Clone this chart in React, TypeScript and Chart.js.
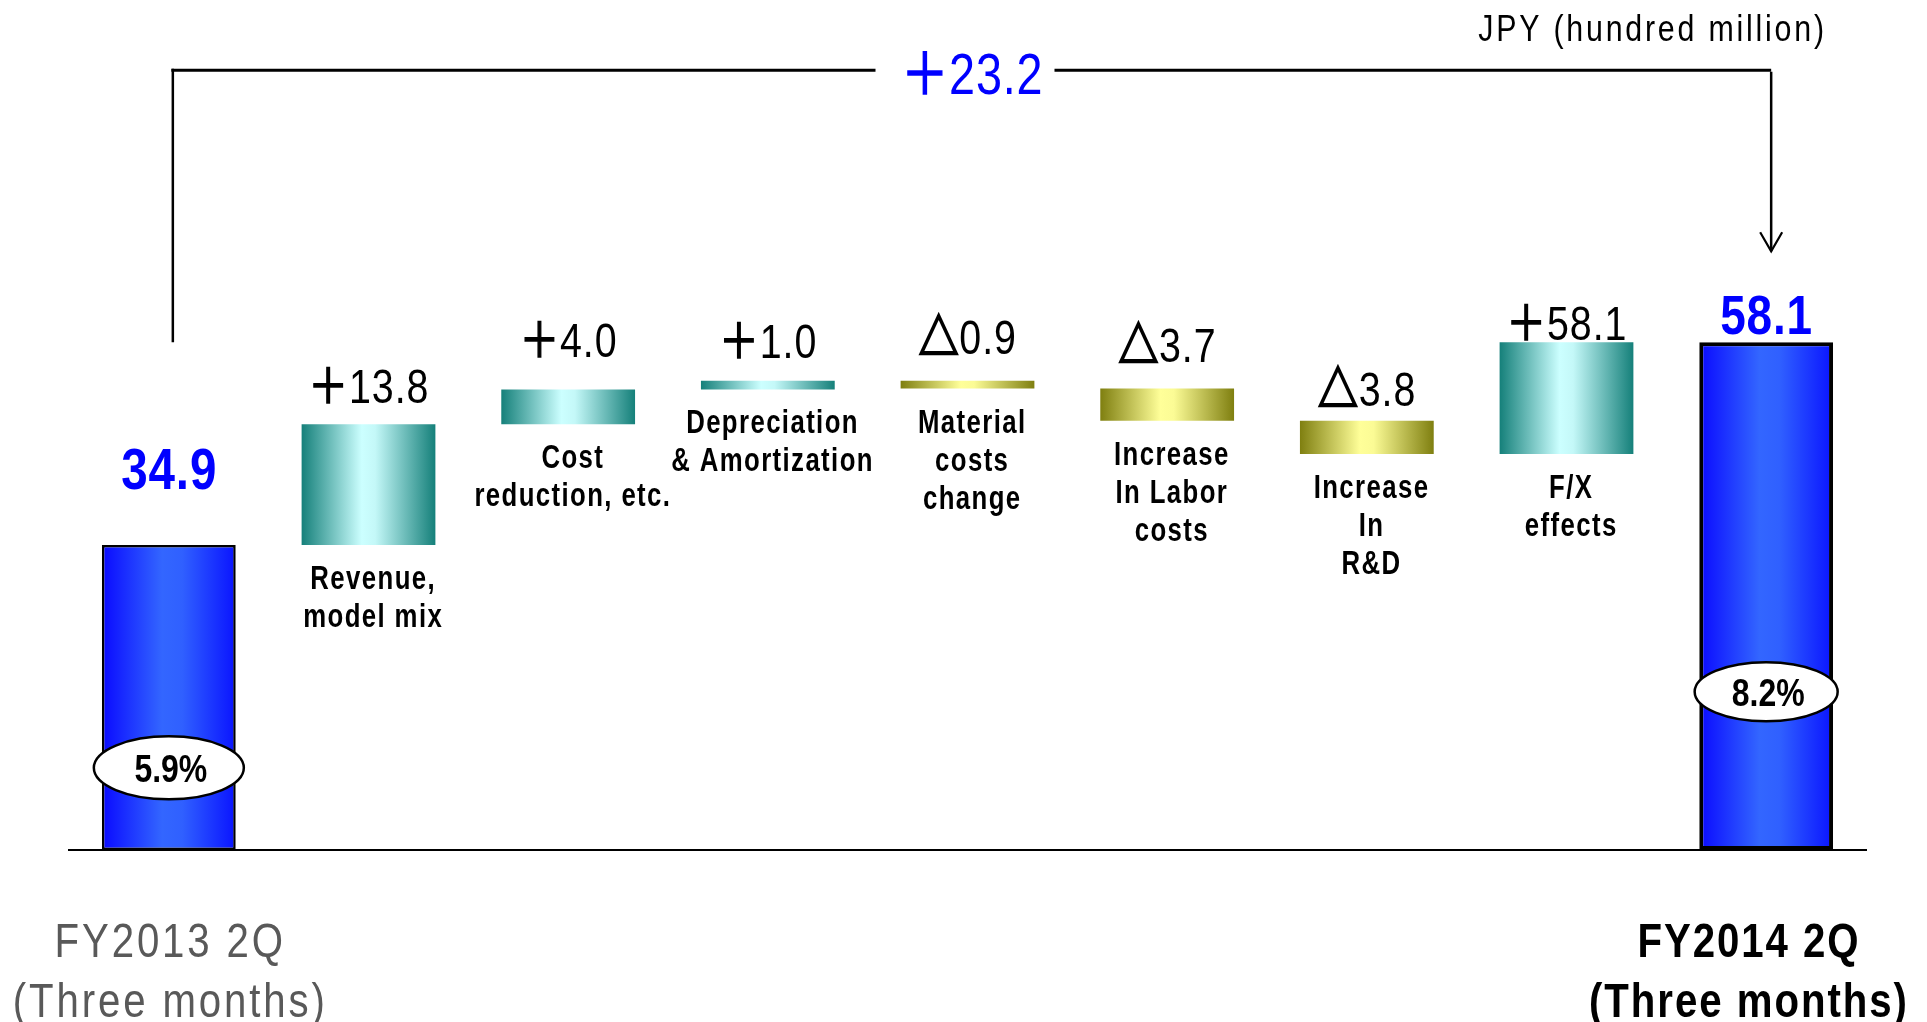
import React, { useEffect, useRef } from "react";
import { Chart, registerables } from "chart.js";

Chart.register(...registerables);

const W = 1927;
const H = 1022;
const FONT = "'Liberation Sans', 'Noto Sans CJK JP', 'DejaVu Sans', sans-serif";

// ---------- data ----------
const categories: string[][] = [
  ["FY2013 2Q", "(Three months)"],
  ["Revenue,", "model mix"],
  ["Cost", "reduction, etc."],
  ["Depreciation", "& Amortization"],
  ["Material", "costs", "change"],
  ["Increase", "In Labor", "costs"],
  ["Increase", "In", "R&D"],
  ["F/X", "effects"],
  ["FY2014 2Q", "(Three months)"],
];
const startTotal = 34.9;
const endTotal = 58.1;
const changes = [13.8, 4.0, 1.0, -0.9, -3.7, -3.8, 12.8];
const valueLabels = ["34.9", "＋13.8", "＋4.0", "＋1.0", "△0.9", "△3.7", "△3.8", "＋58.1", "58.1"];
const marginLabels = ["5.9%", "8.2%"];
const marginLevels = [9.4, 18.1];
const totalChangeLabel = "＋23.2";
const unitLabel = "JPY (hundred million)";

// ---------- annotation layout (not data) ----------
const valueLabelGap = [56, 21, 32, 23, 27, 27, 15, 2, 8];
const valueLabelSize = [58, 48, 48, 48, 48, 48, 48, 48, 56];
const bracketLevel = 89.2;
const arrowTipLevel = 68.5;

// build floating ranges from data
const totalsData: ([number, number] | null)[] = categories.map(() => null);
const upData: ([number, number] | null)[] = categories.map(() => null);
const downData: ([number, number] | null)[] = categories.map(() => null);
totalsData[0] = [0, startTotal];
totalsData[categories.length - 1] = [0, endTotal];
{
  let cum = startTotal;
  changes.forEach((c, k) => {
    const next = Math.round((cum + c) * 10) / 10;
    if (c >= 0) upData[k + 1] = [cum, next];
    else downData[k + 1] = [cum, next];
    cum = next;
  });
}

const BLUE_STOPS: [number, string][] = [
  [0, "#0a0aff"],
  [0.45, "#3366ff"],
  [0.6, "#3060ff"],
  [1, "#0a14ff"],
];
const TEAL_STOPS: [number, string][] = [
  [0, "#15807a"],
  [0.45, "#ccffff"],
  [0.55, "#c4f8f8"],
  [1, "#15807a"],
];
const OLIVE_STOPS: [number, string][] = [
  [0, "#7f7f10"],
  [0.45, "#ffff99"],
  [0.55, "#fbfb95"],
  [1, "#7f7f10"],
];

const PCT_TOTAL = 0.67;
const PCT_UP = 0.67;
const PCT_DOWN = 0.67;

function gradient(stops: [number, string][], pct: number) {
  return (ctx: any) => {
    const chart = ctx.chart;
    const xs = chart.scales?.x;
    if (!xs || ctx.type !== "data" || ctx.dataIndex == null) return stops[1][1];
    const cx = xs.getPixelForValue(ctx.dataIndex);
    const half = ((xs.width / categories.length) * pct) / 2;
    if (!isFinite(cx) || !isFinite(half) || half <= 0) return stops[1][1];
    const g = chart.ctx.createLinearGradient(cx - half, 0, cx + half, 0);
    stops.forEach(([o, c]) => g.addColorStop(o, c));
    return g;
  };
}

type TOpts = {
  size: number;
  weight?: string;
  color: string;
  sx?: number;
  ls?: number;
  stroke?: number;
  align?: "left" | "center" | "right";
};

function setFont(ctx: CanvasRenderingContext2D, o: TOpts) {
  ctx.font = `${o.weight || "normal"} ${o.size}px ${FONT}`;
  (ctx as any).letterSpacing = `${o.ls || 0}px`;
}

// split a label so that a leading ＋ / △ symbol can be drawn heavier
function pieces(text: string, o: TOpts): [string, TOpts][] {
  const first = text.charAt(0);
  if (first === "△" || first === "＋") {
    return [
      [first, { ...o, stroke: first === "△" ? 2.4 : 1.6 }],
      [text.slice(1), o],
    ];
  }
  return [[text, o]];
}

function measure(ctx: CanvasRenderingContext2D, text: string, o: TOpts) {
  let w = 0;
  ctx.save();
  for (const [t, po] of pieces(text, o)) {
    setFont(ctx, po);
    w += ctx.measureText(t).width * (po.sx ?? 0.82);
  }
  ctx.restore();
  return w - (o.ls || 0) * (o.sx ?? 0.82);
}

function drawText(ctx: CanvasRenderingContext2D, text: string, x: number, y: number, o: TOpts) {
  const w = measure(ctx, text, o);
  let left = x;
  if ((o.align || "center") === "center") left = x - w / 2;
  else if (o.align === "right") left = x - w;
  let cur = left;
  for (const [t, po] of pieces(text, o)) {
    const sx = po.sx ?? 0.82;
    ctx.save();
    setFont(ctx, po);
    ctx.fillStyle = po.color;
    ctx.textAlign = "left";
    ctx.textBaseline = "alphabetic";
    const pw = ctx.measureText(t).width * sx;
    ctx.translate(cur, y);
    ctx.scale(sx, 1);
    ctx.fillText(t, 0, 0);
    if (po.stroke) {
      ctx.strokeStyle = po.color;
      ctx.lineWidth = po.stroke;
      ctx.lineJoin = "miter";
      ctx.strokeText(t, 0, 0);
    }
    ctx.restore();
    cur += pw;
  }
  return { left, right: left + w, width: w };
}

const annotations = {
  id: "waterfallAnnotations",
  afterDraw(chart: any) {
    const ctx: CanvasRenderingContext2D = chart.ctx;
    const ys = chart.scales.y;
    const n = categories.length;

    const barAt = (i: number) => {
      for (let d = 0; d < chart.data.datasets.length; d++) {
        if (chart.data.datasets[d].data[i] != null) {
          const el = chart.getDatasetMeta(d).data[i];
          const p = el.getProps(["x", "y", "base", "width"], true);
          return {
            x: p.x,
            top: Math.min(p.y, p.base),
            bottom: Math.max(p.y, p.base),
            width: p.width,
          };
        }
      }
      return null;
    };

    // value labels
    for (let i = 0; i < n; i++) {
      const b = barAt(i);
      if (!b) continue;
      const isTotal = i === 0 || i === n - 1;
      drawText(ctx, valueLabels[i], b.x, b.top - valueLabelGap[i], {
        size: valueLabelSize[i],
        weight: isTotal ? "bold" : "normal",
        color: isTotal ? "#0000ff" : "#000000",
        ls: isTotal ? 1 : 1.2,
      });
    }

    // category labels under floating bars
    for (let i = 1; i < n - 1; i++) {
      const b = barAt(i);
      if (!b) continue;
      categories[i].forEach((line, k) => {
        drawText(ctx, line, b.x + 4, b.bottom + 44 + k * 38, {
          size: 33,
          weight: "bold",
          color: "#000000",
          sx: 0.78,
          ls: 1.8,
        });
      });
    }

    // bottom labels for totals
    [0, n - 1].forEach((i) => {
      const b = barAt(i);
      if (!b) return;
      const first = i === 0;
      const opts: TOpts = {
        size: 49,
        weight: first ? "normal" : "bold",
        color: first ? "#595959" : "#000000",
        ls: first ? 3.5 : 2.4,
      };
      const maxW = Math.max(...categories[i].map((l) => measure(ctx, l, opts)));
      let cx = b.x;
      if (cx + maxW / 2 > W - 20) cx = W - 20 - maxW / 2;
      if (cx - maxW / 2 < 8) cx = 8 + maxW / 2;
      categories[i].forEach((line, k) => {
        drawText(ctx, line, cx, 957 + k * 60, opts);
      });
    });

    // margin ellipses
    [0, n - 1].forEach((i, k) => {
      const b = barAt(i);
      if (!b) return;
      const cy = ys.getPixelForValue(marginLevels[k]);
      const rx = k === 0 ? 75 : 71.5;
      const ry = k === 0 ? 31.5 : 29.5;
      ctx.save();
      ctx.beginPath();
      ctx.ellipse(b.x, cy, rx, ry, 0, 0, Math.PI * 2);
      ctx.fillStyle = "#ffffff";
      ctx.fill();
      ctx.lineWidth = 2.5;
      ctx.strokeStyle = "#000000";
      ctx.stroke();
      ctx.restore();
      drawText(ctx, marginLabels[k], b.x + 2, cy + 14, {
        size: 39,
        weight: "bold",
        color: "#000000",
        ls: 0,
      });
    });

    // bracket with total change
    const b0 = barAt(0);
    const b1 = barAt(n - 1);
    if (b0 && b1) {
      const lx = b0.x + 4;
      const rx = b1.x + 5;
      const yTop = ys.getPixelForValue(bracketLevel);
      const yLeftBottom = ys.getPixelForValue(endTotal);
      const yTip = ys.getPixelForValue(arrowTipLevel);
      const midX = (lx + rx) / 2;
      const tOpts: TOpts = { size: 57, color: "#0000ff", ls: 1 };
      const tw = measure(ctx, totalChangeLabel, tOpts);
      const tl = midX - tw / 2;
      const tr = midX + tw / 2;
      ctx.save();
      ctx.strokeStyle = "#000000";
      ctx.lineCap = "butt";
      ctx.lineWidth = 3;
      ctx.beginPath();
      ctx.moveTo(lx - 1.5, yTop);
      ctx.lineTo(tl - 26, yTop);
      ctx.moveTo(tr + 12, yTop);
      ctx.lineTo(rx, yTop);
      ctx.stroke();
      ctx.lineWidth = 2.5;
      ctx.beginPath();
      ctx.moveTo(lx, yTop - 1.5);
      ctx.lineTo(lx, yLeftBottom);
      ctx.moveTo(rx, yTop + 1.5);
      ctx.lineTo(rx, yTip);
      ctx.stroke();
      ctx.lineWidth = 2.2;
      ctx.beginPath();
      ctx.moveTo(rx - 11, yTip - 19);
      ctx.lineTo(rx, yTip);
      ctx.lineTo(rx + 11, yTip - 19);
      ctx.stroke();
      ctx.restore();
      drawText(ctx, totalChangeLabel, midX, yTop + 24, tOpts);
    }

    // unit label
    drawText(ctx, unitLabel, 1824, 41, {
      size: 37,
      color: "#000000",
      ls: 3.4,
      align: "right",
    });
  },
};

export default function App() {
  const ref = useRef<HTMLCanvasElement | null>(null);

  useEffect(() => {
    if (!ref.current) return;
    const chart = new Chart(ref.current, {
      type: "bar",
      data: {
        labels: categories.map((c) => c.join(" ")),
        datasets: [
          {
            label: "Total",
            data: totalsData as any,
            backgroundColor: gradient(BLUE_STOPS, PCT_TOTAL) as any,
            borderColor: "#000000",
            borderWidth: ((c: any) => (c.dataIndex === categories.length - 1 ? 4 : 2.5)) as any,
            borderSkipped: false,
            barPercentage: PCT_TOTAL,
            categoryPercentage: 1,
            grouped: false,
          } as any,
          {
            label: "Increase",
            data: upData as any,
            backgroundColor: gradient(TEAL_STOPS, PCT_UP) as any,
            borderWidth: 0,
            barPercentage: PCT_UP,
            categoryPercentage: 1,
            grouped: false,
          } as any,
          {
            label: "Decrease",
            data: downData as any,
            backgroundColor: gradient(OLIVE_STOPS, PCT_DOWN) as any,
            borderWidth: 0,
            barPercentage: PCT_DOWN,
            categoryPercentage: 1,
            grouped: false,
          } as any,
        ],
      },
      options: {
        responsive: false,
        animation: false,
        devicePixelRatio: 1,
        layout: { padding: { left: 69, right: 61, top: 0, bottom: 172 } },
        plugins: {
          legend: { display: false },
          tooltip: { enabled: false },
          title: { display: false },
        },
        scales: {
          x: {
            display: true,
            grid: { display: false, drawTicks: false },
            ticks: { display: false },
            border: { display: true, color: "#000000", width: 2 },
          },
          y: {
            display: false,
            min: 0,
            max: 97.25,
          },
        },
      } as any,
      plugins: [annotations],
    });
    return () => chart.destroy();
  }, []);

  return (
    <div
      style={{
        position: "fixed",
        left: 0,
        top: 0,
        width: W,
        height: H,
        background: "#ffffff",
      }}
    >
      <canvas ref={ref} width={W} height={H} style={{ display: "block", width: W, height: H }} />
    </div>
  );
}
